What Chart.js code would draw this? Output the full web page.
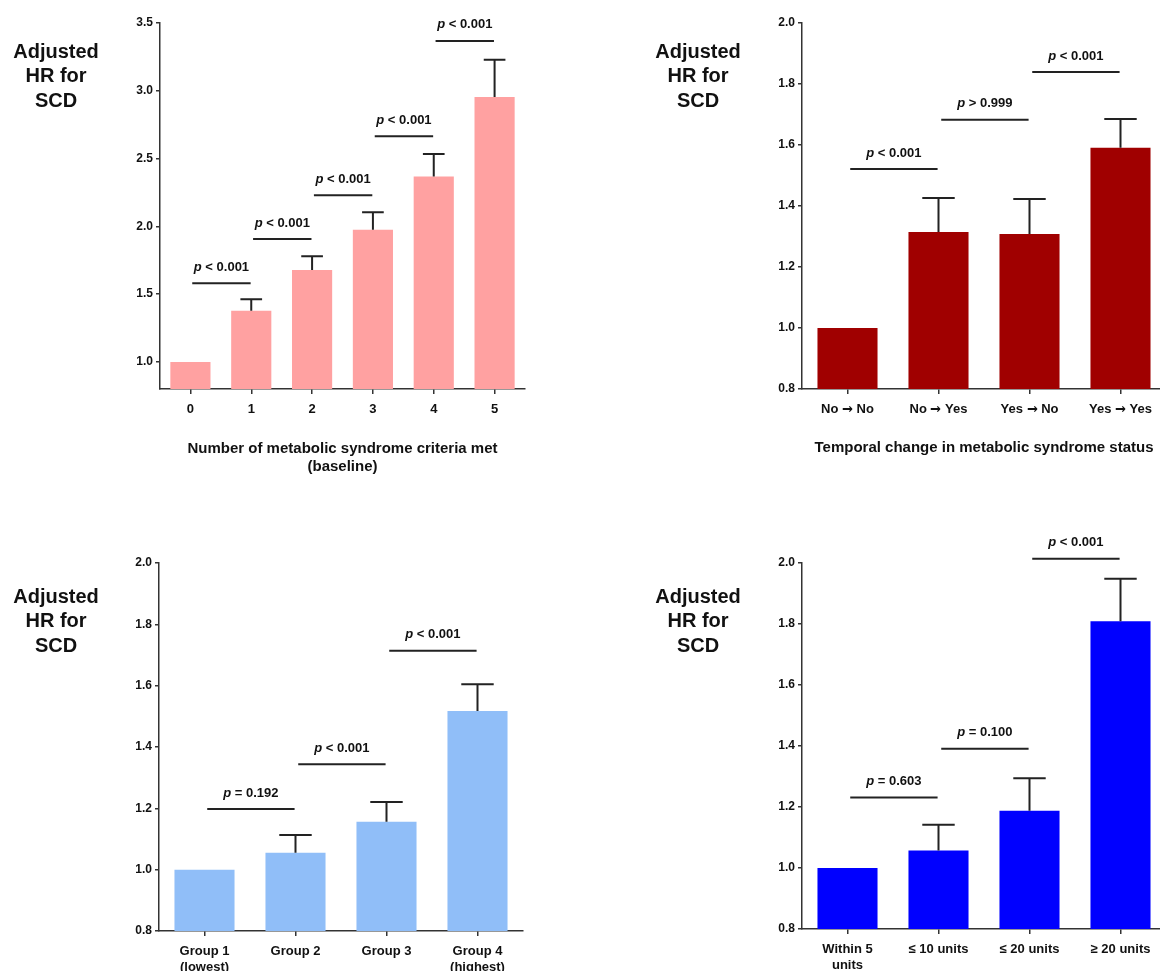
<!DOCTYPE html>
<html>
<head>
<meta charset="utf-8">
<script src="https://cdn.jsdelivr.net/npm/chart.js@4.4.1/dist/chart.umd.min.js"></script>
<style>
  /* Liberation Sans has a tiny arrow, borrow DejaVu's for U+2192 */
  @font-face {
    font-family: 'ArrowFix';
    src: local('DejaVu Sans Bold'), local('DejaVuSans-Bold');
    font-weight: bold;
    unicode-range: U+2192;
  }
  @font-face {
    font-family: 'ArrowFix';
    src: local('DejaVu Sans'), local('DejaVuSans');
    font-weight: normal;
    unicode-range: U+2192;
  }
  html, body { margin: 0; padding: 0; background: #fff; }
  body { width: 1160px; height: 971px; overflow: hidden; position: relative; }
  canvas { position: absolute; }
</style>
</head>
<body>
<canvas id="c1" width="580" height="500" style="left:0;top:0"></canvas>
<canvas id="c2" width="600" height="500" style="left:580px;top:0"></canvas>
<canvas id="c3" width="580" height="480" style="left:0;top:520px"></canvas>
<canvas id="c4" width="600" height="480" style="left:580px;top:520px"></canvas>
<script>
// Panel A - number of criteria at baseline
var criteriaLabels = ['0', '1', '2', '3', '4', '5'];
var criteriaHR = [1.0, 1.378, 1.678, 1.975, 2.368, 2.955];
var criteriaUpper = [null, 1.462, 1.779, 2.103, 2.533, 3.228];
var criteriaPLine = [1.58, 1.906, 2.23, 2.665, 3.368];
var criteriaP = ['< 0.001', '< 0.001', '< 0.001', '< 0.001', '< 0.001'];
var criteriaTicks = [1.0, 1.5, 2.0, 2.5, 3.0, 3.5];

// Panel B - temporal change
var changeLabels = ['No \u2192 No', 'No \u2192 Yes', 'Yes \u2192 No', 'Yes \u2192 Yes'];
var changeHR = [1.0, 1.315, 1.308, 1.591];
var changeUpper = [null, 1.426, 1.423, 1.685];
var changePLine = [1.521, 1.683, 1.839];
var changeP = ['< 0.001', '> 0.999', '< 0.001'];

// Panel C - groups
var groupLabels = [['Group 1', '(lowest)'], 'Group 2', 'Group 3', ['Group 4', '(highest)']];
var groupHR = [1.0, 1.055, 1.156, 1.517];
var groupUpper = [null, 1.113, 1.221, 1.605];
var groupPLine = [1.198, 1.344, 1.714];
var groupP = ['= 0.192', '< 0.001', '< 0.001'];

// Panel D - units
var unitLabels = [['Within 5', 'units'], '\u2264 10 units', '\u2264 20 units', '\u2265 20 units'];
var unitHR = [1.0, 1.057, 1.188, 1.809];
var unitUpper = [null, 1.142, 1.294, 1.948];
var unitPLine = [1.231, 1.391, 2.014];
var unitP = ['= 0.603', '= 0.100', '< 0.001'];

var smallTicks = [0.8, 1.0, 1.2, 1.4, 1.6, 1.8, 2.0];
var yTitle = ['Adjusted', 'HR for', 'SCD'];

var FONT = "'Liberation Sans', Arial, sans-serif";
Chart.defaults.font.family = FONT;
Chart.defaults.color = '#111';

function drawP(ctx, cx, cy, text) {
    ctx.textBaseline = 'middle';
    ctx.textAlign = 'left';
    ctx.font = 'italic bold 13px ' + FONT;
    var w1 = ctx.measureText('p').width;
    ctx.font = 'bold 13px ' + FONT;
    var rest = ' ' + text;
    var w2 = ctx.measureText(rest).width;
    var x0 = cx - (w1 + w2) / 2;
    ctx.fillStyle = '#111';
    ctx.font = 'italic bold 13px ' + FONT;
    ctx.fillText('p', x0, cy);
    ctx.font = 'bold 13px ' + FONT;
    ctx.fillText(rest, x0 + w1, cy);
}

var annotate = {
    id: 'annotate',
    afterDatasetsDraw: function(chart, args, opts) {
        var ctx = chart.ctx;
        var xs = chart.scales.x, ys = chart.scales.y;
        var meta = chart.getDatasetMeta(0);
        ctx.save();
        ctx.strokeStyle = '#222';
        ctx.lineWidth = 2;
        // upper error bars
        opts.upper.forEach(function(u, i) {
            if (u == null) return;
            var bar = meta.data[i];
            var half = bar.width * 0.27;
            var yt = ys.getPixelForValue(u);
            ctx.beginPath();
            ctx.moveTo(bar.x, bar.y);
            ctx.lineTo(bar.x, yt);
            ctx.moveTo(bar.x - half, yt);
            ctx.lineTo(bar.x + half, yt);
            ctx.stroke();
        });
        // comparison lines with p values
        var step = xs.getPixelForValue(1) - xs.getPixelForValue(0);
        opts.pLine.forEach(function(v, i) {
            var x1 = xs.getPixelForValue(i) + step * 0.03;
            var x2 = xs.getPixelForValue(i + 1) - step * 0.01;
            var yy = ys.getPixelForValue(v);
            ctx.beginPath();
            ctx.moveTo(x1, yy);
            ctx.lineTo(x2, yy);
            ctx.stroke();
            drawP(ctx, (x1 + x2) / 2, yy - 16, opts.pText[i]);
        });
        // horizontal y title
        ctx.fillStyle = '#111';
        ctx.font = 'bold 20px ' + FONT;
        ctx.textAlign = 'center';
        ctx.textBaseline = 'middle';
        opts.title.forEach(function(t, i) {
            ctx.fillText(t, opts.titleX, opts.titleY + i * 24.5);
        });
        ctx.restore();
    }
};

function makeChart(id, cfg) {
    return new Chart(document.getElementById(id), {
        type: 'bar',
        data: {
            labels: cfg.labels,
            datasets: [{
                data: cfg.hr,
                backgroundColor: cfg.color,
                borderWidth: 0,
                categoryPercentage: 1,
                barPercentage: 0.66
            }]
        },
        plugins: [annotate],
        options: {
            responsive: false,
            animation: false,
            devicePixelRatio: 1,
            layout: { padding: { left: 0, top: cfg.top, right: cfg.right, bottom: 0 } },
            plugins: {
                legend: { display: false },
                tooltip: { enabled: false },
                annotate: {
                    upper: cfg.upper, pLine: cfg.pLine, pText: cfg.pText,
                    title: yTitle, titleX: cfg.titleX, titleY: cfg.titleY
                }
            },
            scales: {
                x: {
                    grid: { display: true, drawOnChartArea: false, offset: false, color: '#333', lineWidth: 1.5, tickLength: 5 },
                    border: { color: '#333', width: 1.5 },
                    ticks: {
                        font: { family: "'ArrowFix', " + FONT, size: 13, weight: 'bold', lineHeight: 1.25 },
                        padding: 7, maxRotation: 0, autoSkip: false
                    },
                    title: {
                        display: !!cfg.xTitle,
                        text: cfg.xTitle,
                        font: { size: 15, weight: 'bold', lineHeight: 1.22 },
                        padding: { top: 0, bottom: cfg.titlePad }
                    },
                    afterFit: function(s) { s.height = cfg.xHeight; }
                },
                y: {
                    min: cfg.min, max: cfg.max,
                    grid: { display: true, drawOnChartArea: false, color: '#333', lineWidth: 1.5, tickLength: 4 },
                    border: { color: '#333', width: 1.5 },
                    ticks: {
                        font: { size: 12, weight: 'bold' }, padding: 3,
                        callback: function(v) { return Number(v).toFixed(1); }
                    },
                    afterBuildTicks: function(s) {
                        s.ticks = cfg.ticks.map(function(v) { return { value: v }; });
                    },
                    afterFit: function(s) { s.width = cfg.yWidth; }
                }
            }
        }
    });
}

function drawAll() {
    makeChart('c1', {
        labels: criteriaLabels, hr: criteriaHR, upper: criteriaUpper, pLine: criteriaPLine, pText: criteriaP,
        color: '#FFA1A1', min: 0.8, max: 3.5, ticks: criteriaTicks,
        top: 23, right: 55, yWidth: 160, xHeight: 111,
        xTitle: ['Number of metabolic syndrome criteria met', '(baseline)'], titlePad: 24,
        titleX: 56, titleY: 52
    });

    makeChart('c2', {
        labels: changeLabels, hr: changeHR, upper: changeUpper, pLine: changePLine, pText: changeP,
        color: '#A00000', min: 0.8, max: 2.0, ticks: smallTicks,
        top: 23, right: 14, yWidth: 222, xHeight: 111,
        xTitle: 'Temporal change in metabolic syndrome status', titlePad: 43,
        titleX: 118, titleY: 52
    });

    makeChart('c3', {
        labels: groupLabels, hr: groupHR, upper: groupUpper, pLine: groupPLine, pText: groupP,
        color: '#90BEF8', min: 0.8, max: 2.0, ticks: smallTicks,
        top: 43, right: 57, yWidth: 159, xHeight: 69,
        xTitle: null, titlePad: 0,
        titleX: 56, titleY: 77
    });

    makeChart('c4', {
        labels: unitLabels, hr: unitHR, upper: unitUpper, pLine: unitPLine, pText: unitP,
        color: '#0000FF', min: 0.8, max: 2.0, ticks: smallTicks,
        top: 43, right: 14, yWidth: 222, xHeight: 71,
        xTitle: null, titlePad: 0,
        titleX: 118, titleY: 77
    });
}

// wait for the arrow font before drawing the canvases
document.fonts.load('bold 12px ArrowFix', '\u2192').then(drawAll, drawAll);
</script>
</body>
</html>
